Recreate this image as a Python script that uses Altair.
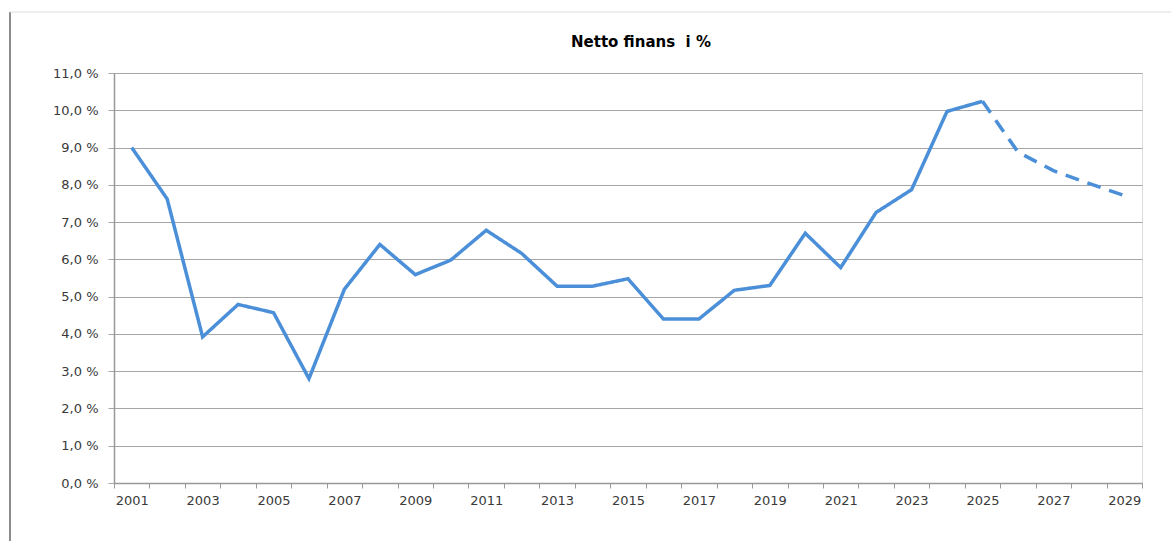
import altair as alt
import pandas as pd

years = list(range(2001, 2030))
values = [9.0, 7.62, 3.92, 4.79, 4.57, 2.8, 5.2, 6.4, 5.59, 5.98, 6.78, 6.16,
          5.28, 5.28, 5.48, 4.4, 4.4, 5.17, 5.3, 6.7, 5.78, 7.26, 7.87, 9.97,
          10.24, 8.88, 8.38, 8.04, 7.71]
last_actual = 2025
y_ticks = list(range(0, 12))
title_text = "Netto finans\u00a0\u00a0i %"

rows = []
for yr, v in zip(years, values):
    if yr <= last_actual:
        rows.append({"year": yr, "value": v, "seg": "faktisk"})
    if yr >= last_actual:
        rows.append({"year": yr, "value": v, "seg": "prognose"})
df = pd.DataFrame(rows)

W, H = 1028, 410
PAD_L, PAD_T = 114, 73

line = alt.Chart(df).mark_line(strokeWidth=3.5, color="#4a8fd8", strokeCap="butt", strokeJoin="miter").encode(
    x=alt.X("year:O", scale=alt.Scale(type="band", paddingInner=0, paddingOuter=0),
            axis=alt.Axis(title=None, labelAngle=0, tickBand="extent", tickSize=5,
                          tickColor="#999999", domainColor="#999999", domainWidth=1.5,
                          labelPadding=6, labelFont="DejaVu Sans", labelFontSize=13,
                          labelColor="#3a3a3a", grid=False,
                          labelExpr="(+datum.value) % 2 == 1 ? datum.label : ''")),
    y=alt.Y("value:Q", scale=alt.Scale(domain=[0, 11], nice=False, zero=True),
            axis=alt.Axis(title=None, values=y_ticks, tickSize=6, tickColor="#a6a6a6",
                          domainColor="#999999", domainWidth=1.5,
                          gridColor="#a6a6a6", gridWidth=1.2, labelPadding=10,
                          labelFont="DejaVu Sans", labelFontSize=13, labelColor="#3a3a3a",
                          labelExpr="replace(format(datum.value, '.1f'), '.', ',') + ' %'")),
    strokeDash=alt.StrokeDash("seg:N", scale=alt.Scale(domain=["faktisk", "prognose"],
                                                        range=[[1, 0], [14, 9]]), legend=None),
    order="year:O",
)

deco = pd.DataFrame({"k": [0]})
left_border = alt.Chart(deco).mark_rule(color="#8c8c8c", strokeWidth=2).encode(
    x=alt.value(10 - PAD_L), y=alt.value(12 - PAD_T), y2=alt.value(541 - PAD_T))
top_border = alt.Chart(deco).mark_rule(color="#dddddd", strokeWidth=1).encode(
    x=alt.value(10 - PAD_L), x2=alt.value(1171 - PAD_L), y=alt.value(12 - PAD_T))
title = alt.Chart(pd.DataFrame({"t": [title_text]})).mark_text(
    font="DejaVu Sans", fontSize=15, fontWeight="bold", color="#000000",
    align="center", baseline="alphabetic").encode(
    text="t:N", x=alt.value(641 - PAD_L), y=alt.value(47 - PAD_T))

chart = alt.layer(left_border, top_border, line, title).properties(
    width=W, height=H,
    autosize=alt.AutoSizeParams(type="none"),
    padding={"left": PAD_L, "top": PAD_T, "right": 1171 - PAD_L - W, "bottom": 541 - PAD_T - H},
).configure_view(stroke=None).configure(background="white")

chart.save("out.html", embed_options={"renderer": "svg", "actions": False})
